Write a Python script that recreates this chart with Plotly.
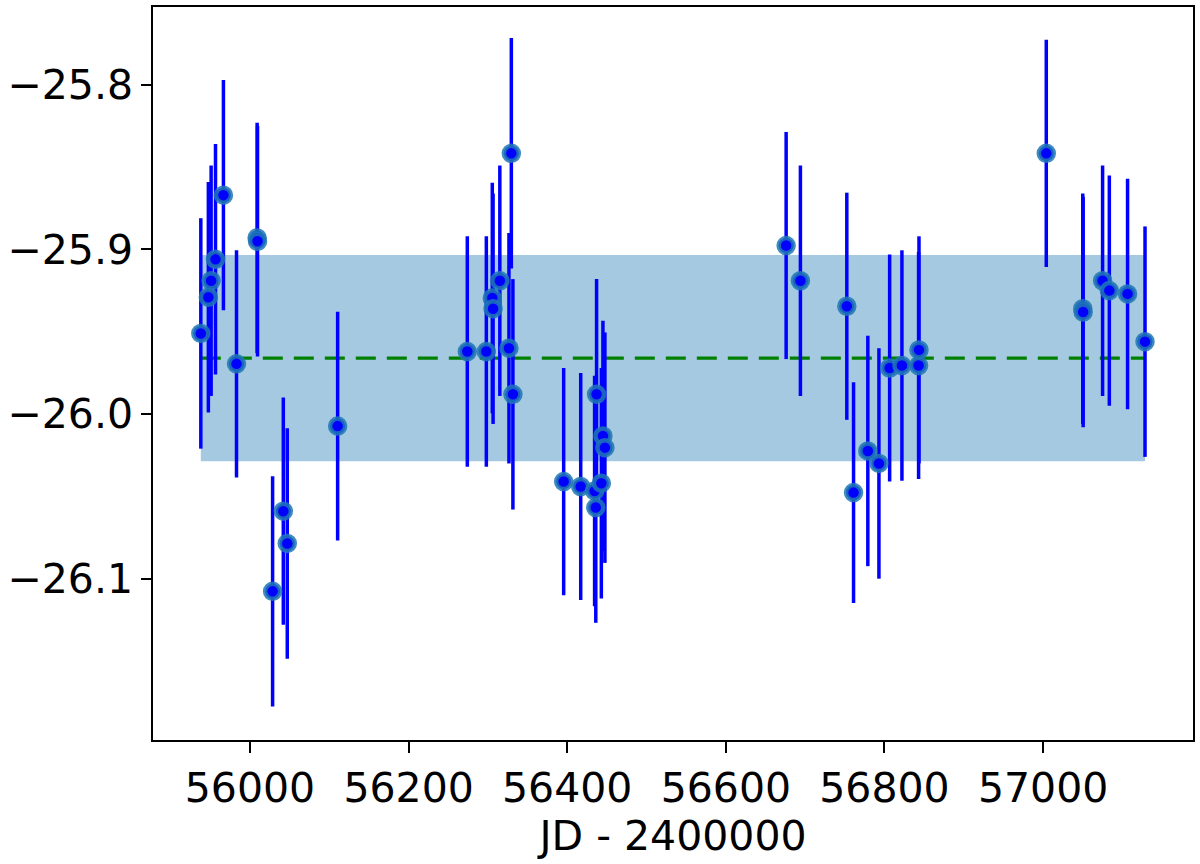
import plotly.graph_objects as go

# Data
jd = [55938, 55947.5, 55951, 55956.5, 55966.5, 55983, 56009, 56009.5, 56028.5, 56042,
      56047, 56110.5, 56274, 56298, 56305.5, 56306.5, 56315, 56326.5, 56329.5, 56331.5,
      56395.5, 56417, 56434.5, 56437, 56436, 56443, 56445, 56447.5, 56676, 56694,
      56752.5, 56761, 56779, 56793, 56806.5, 56822, 56843, 56843.5, 57004, 57050,
      57050.5, 57075, 57083.5, 57106.5, 57128.5]
mag = [-25.951, -25.929, -25.919, -25.906, -25.867, -25.9695, -25.893, -25.895, -26.1077, -26.059,
       -26.0786, -26.0073, -25.962, -25.962, -25.9295, -25.936, -25.919, -25.96, -25.8416, -25.988,
       -26.041, -26.044, -26.0467, -25.988, -26.0568, -26.042, -26.0133, -26.0204, -25.8976, -25.919,
       -25.9345, -26.0477, -26.0224, -26.030, -25.972, -25.9705, -25.9705, -25.961, -25.8416, -25.936,
       -25.938, -25.919, -25.925, -25.927, -25.956]
err = [0.07, 0.07, 0.07, 0.07, 0.07, 0.069, 0.07, 0.07, 0.07, 0.069,
       0.07, 0.0695, 0.07, 0.07, 0.07, 0.07, 0.07, 0.07, 0.07, 0.07,
       0.069, 0.069, 0.07, 0.07, 0.07, 0.07, 0.07, 0.07, 0.069, 0.07,
       0.069, 0.067, 0.07, 0.07, 0.069, 0.07, 0.069, 0.069, 0.069, 0.07,
       0.07, 0.07, 0.07, 0.07, 0.07]

mean_mag = -25.966
std_mag = 0.0627

x_ticks = [56000, 56200, 56400, 56600, 56800, 57000]
x_tick_labels = ["56000", "56200", "56400", "56600", "56800", "57000"]
y_ticks = [-25.8, -25.9, -26.0, -26.1]
y_tick_labels = ["\u221225.8", "\u221225.9", "\u221226.0", "\u221226.1"]
x_label = "JD - 2400000"

x0, x1 = min(jd), max(jd)

fig = go.Figure()

# shaded band mean +/- std
fig.add_trace(go.Scatter(
    x=[x0, x1, x1, x0, x0],
    y=[mean_mag + std_mag, mean_mag + std_mag, mean_mag - std_mag, mean_mag - std_mag, mean_mag + std_mag],
    fill="toself", fillcolor="rgba(31,119,180,0.4)", line=dict(width=0),
    mode="lines", hoverinfo="skip", showlegend=False))

# mean dashed line
fig.add_trace(go.Scatter(
    x=[x0, x1], y=[mean_mag, mean_mag], mode="lines",
    line=dict(color="#008000", width=3.2, dash="20px,11px"), showlegend=False))

# data with error bars
fig.add_trace(go.Scatter(
    x=jd, y=mag, mode="markers",
    marker=dict(color="#0000ff", size=15, line=dict(color="rgba(31,119,180,0.85)", width=4.5)),
    error_y=dict(type="data", array=err, visible=True, color="#0000ff", thickness=3.5, width=0),
    showlegend=False))

font = dict(family="DejaVu Sans", size=41, color="black")

fig.update_layout(
    width=1200, height=864,
    margin=dict(l=153, r=7, t=5, b=124),
    plot_bgcolor="white", paper_bgcolor="white",
    font=font,
    xaxis=dict(range=[55877.7, 57189], tickvals=x_ticks, ticktext=x_tick_labels,
               showline=True, mirror=True, linecolor="black", linewidth=1.5,
               ticks="outside", ticklen=11, tickwidth=1.5, tickcolor="black",
               showgrid=False, zeroline=False,
               title=dict(text=x_label, font=font, standoff=0)),
    yaxis=dict(range=[-26.198, -25.7527], tickvals=y_ticks, ticktext=y_tick_labels,
               showline=True, mirror=True, linecolor="black", linewidth=1.5,
               ticks="outside", ticklen=10, tickwidth=1.5, tickcolor="black",
               showgrid=False, zeroline=False),
)

fig.write_html("out.html",
               config={"displayModeBar": False},
               post_script="document.body.style.margin='0';document.body.style.overflow='hidden';")
